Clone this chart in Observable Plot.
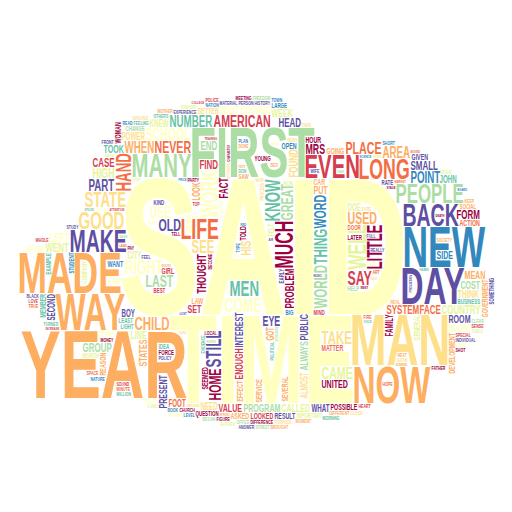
<!DOCTYPE html>
<html><head><meta charset="utf-8">
<script src="https://cdn.jsdelivr.net/npm/d3@7"></script>
<script src="https://cdn.jsdelivr.net/npm/@observablehq/plot@0.6"></script>
<style>html,body{margin:0;padding:0;background:#fff;overflow:hidden}</style>
</head><body><div id="chart"></div>
<script>
// Word frequencies (relative weight) and colour group (index into Spectral scheme)
const words = [
"SAID","TIME","YEAR","MAN","FIRST","MADE","NEW","DAY","WAY","NOW",
"EVEN","MANY","MAKE","BACK","LIFE","LONG","PEOPLE","MUCH","WELL","WORK",
"GOOD","STATE","LITTLE","KNOW","STILL","MEN","HAND","COME","SAY","RIGHT",
"SEE","TAKE","THING","CHILD","WORLD","OLD","NEVER","USED","LAST","AMERICAN",
"PLACE","SCHOOL","GREAT","WORD","USE","CAME","HOME","PART","POINT","WHEN",
"AREA","NUMBER","HIGH","HIS","EYE","MRS","SYSTEM","PROBLEM","THOUGHT","FOUND",
"FACT","FACE","FIND","HEAD","END","WENT","LEFT","COUNTRY","SMALL","CASE",
"GROUP","FORM","SET","UNITED","PROGRAM","COST","PUT","INTEREST","PUBLIC","ALWAYS",
"LINE","THINK","MEAN","WEEK","TOOK","CALLED","VALUE","ENOUGH","STATES","COURSE",
"PRESENT","SIDE","ROOM","POWER","JOHN","NEED","LOOK","GOT","NIGHT","HOUSE",
"WHAT","DOE","KNEW","CITY","FAR","BOY","FOOT","ALMOST","FAMILY","SECOND",
"MATTER","WANT","ACTION","GIRL","OPEN","GENERAL","SEEMED","BETTER","GOING","LOOKED",
"SEVERAL","SERVICE","GOVERNMENT","REASON","DEVELOPMENT","EFFECT","MEMBER","FELT","HOUR","WATER",
"RESULT","ASKED","POSSIBLE","GIVEN","WOMAN","LAW","CAR","ORDER","TOLD","GONE",
"SOCIAL","YOUNG","FORCE","LATER","BUSINESS","MONTH","DOOR","MIND","HELP","CHANGE",
"BEST","KIND","RATE","QUESTION","LARGE","LEAST","COMPANY","STUDENT","IDEA","SOMETHING",
"EARLY","LIGHT","RUN","BIG","EXAMPLE","IMPORTANT","SAW","TELL","REALLY","LOCAL",
"FULL","PARTY","EXPERIENCE","SOCIETY","POLICY","MONEY","CHURCH","SPECIAL","HISTORY","BECOME",
"PERSON","FEELING","STUDY","SHORT","POSITION","WHOLE","FIELD","MATERIAL","FREE","SOUND",
"PROCESS","TYPE","POLITICAL","SURE","REAL","DONE","LET","DIFFERENCE","OTHERS","TURNED",
"PLAN","WAR","FEEL","SHOW","BODY","NATION","FIGURE","FRONT","DIFFERENT","NEXT",
"TOP","THEN","THOUGH","PURPOSE","INDIVIDUAL","DON","MINUTE","OFFICE","KEEP","ROAD",
"HOPE","CLEAR","HEART","BOOK","MOMENT","TOWARD","ART","PAY","BEGAN","LEVEL",
"MORNING","WHITE","BLACK","FATHER","MOTHER","SENSE","TOWN","FREEDOM","SPACE","RATHER",
"GROUND","LOVE","WIFE","BED","MILLION","MEETING","LAND","NATURE","FIRE","PERIOD",
"STREET","SHOT","ANSWER","BROUGHT","CLOSE","EVIDENCE","POLICE","READ","TABLE","TRUE",
"MUSIC","SOUTH","NORTH","WEST","EAST","PRICE","ATTENTION","CENTURY","HEARD","MARKET",
"COURT","LOST","STAGE","TEST","BASIS","OPERATION","SCIENCE","TRAINING","SHALL","STOOD",
"DEATH","SUMMER","AIR","RANGE","MOVED","BOARD","NATIONAL","STRENGTH","INCREASE","MILE",
"VOICE","CHARACTER","PRODUCTION","SPRING","PAPER","LEAD","RED","DATA","HAIR","COLLEGE"
];
const counts = [
137,88,68,50,49,40,40,36,36,36,
23,23,22,22,20,20,19,18,18,17,
17,15,15,15,15,15,15,14,14,14,
13,13,13,13,13,12,12,12,12,12,
12,12,12,12,12,12,12,11,11,11,
11,11,10,10,10,10,9,9,9,9,
9,9,9,9,9,9,9,9,9,9,
9,9,8,8,8,8,8,8,8,8,
8,8,8,8,8,8,8,8,8,8,
8,8,8,7,7,7,7,7,7,7,
7,7,7,7,7,7,7,7,7,7,
6,6,6,6,6,6,6,6,6,6,
6,6,6,6,6,6,6,6,6,6,
6,6,6,6,6,6,6,6,6,6,
5,5,5,5,5,5,5,5,5,5,
5,5,5,5,5,5,5,5,5,5,
5,5,5,5,5,5,5,4,4,4,
4,4,4,4,4,4,4,4,4,4,
4,4,4,4,4,4,4,4,4,4,
4,4,4,4,4,4,4,4,4,4,
4,4,4,4,4,4,4,4,4,4,
4,4,4,4,4,4,4,4,4,4,
4,4,4,4,4,4,4,4,4,4,
4,4,4,4,4,4,4,4,4,4,
4,4,4,4,4,4,4,4,4,4,
4,4,4,4,4,4,4,4,4,4,
3,3,3,3,3,3,3,3,3,3,
3,3,3,3,3,3,3,3,3,3,
3,3,3,3,3,3,3,3,3,3,
3,3,3,3,3,3,3,3,3,3
];
const tones = [
5,5,3,4,7,3,9,10,3,3,
1,7,10,10,2,2,7,0,6,5,
4,4,0,8,10,8,2,5,1,5,
4,4,8,3,7,10,2,3,7,1,
2,5,7,9,5,6,0,10,9,3,
3,8,6,4,10,0,2,0,0,4,
0,2,1,10,7,6,5,6,10,1,
7,0,1,0,7,7,3,10,10,7,
6,4,3,6,8,6,1,1,3,5,
10,9,10,4,8,4,3,3,5,5,
10,6,6,6,5,10,2,4,0,10,
2,9,2,1,9,6,0,4,3,1,
3,3,3,3,3,3,8,6,0,5,
10,3,0,10,0,3,3,5,0,5,
3,0,0,0,8,6,2,1,7,7,
1,10,10,0,9,8,6,9,8,10,
10,8,6,9,8,6,3,0,10,0,
10,0,10,3,10,0,0,1,10,0,
10,8,10,9,5,1,5,10,5,1,
4,9,8,4,3,3,5,0,8,8,
9,4,10,4,4,9,0,10,3,3,
1,4,5,4,10,8,2,7,3,6,
2,7,1,9,3,6,2,0,7,9,
8,5,10,0,3,1,9,7,2,6,
4,1,10,3,8,0,6,9,2,5,
7,0,10,3,4,8,1,9,6,2,
10,3,7,0,4,9,1,5,8,2,
6,10,0,3,7,4,9,1,5,8,
0,3,10,6,2,9,4,7,1,5,
8,0,10,3,6,2,9,4,7,1
];
// words set upright (reading bottom to top)
const uprightWords = [
"MUCH","WELL","WORK","LITTLE","KNOW","STILL","HAND","THING","WORLD","GREAT","WORD","HOME","HIS",
"PROBLEM","THOUGHT","FOUND","FACT","INTEREST","PUBLIC","ALWAYS","ENOUGH","STATES","PRESENT","LOOK",
"GOT","ALMOST","FAMILY","SECOND","GENERAL","SEEMED","SEVERAL","SERVICE","GOVERNMENT","REASON",
"DEVELOPMENT","EFFECT","MEMBER","FELT","WOMAN","ORDER","TOLD","COMPANY","STUDENT","SOMETHING",
"EARLY","EXAMPLE","BECOME","POSITION","PROCESS","POLITICAL","TYPE",
"EVIDENCE","PRODUCTION","OPERATION","CHARACTER","STRENGTH"
];
const palette = d3.schemeSpectral[11];

// ---------- layout (computed: nearest-to-centre packing inside a cloud mask) ----------
const W = 512, H = 512, SX = 0.62;
const FONT = '"Liberation Sans", Arial, sans-serif';
const upright = new Set(uprightWords);

function buildMask() {
  const c = document.createElement("canvas"); c.width = W; c.height = H;
  const g = c.getContext("2d");
  g.fillStyle = "#000";
  const lobes = [[212,205,130],[372,255,118],[95,325,92],[70,292,66],[110,245,50],[430,318,76],[50,392,44],[460,392,44]];
  for (const [x,y,r] of lobes) { g.beginPath(); g.arc(x,y,r,0,2*Math.PI); g.fill(); }
  g.fillRect(55,250,410,186);
  g.fillRect(100,200,320,236);
  const d = g.getImageData(0,0,W,H).data;
  const grid = new Uint8Array(W*H);
  for (let i = 0; i < W*H; i++) grid[i] = d[4*i+3] > 127 ? 0 : 1;
  return grid;
}

const cvs = document.createElement("canvas"); cvs.width = 700; cvs.height = 700;
const ctx = cvs.getContext("2d", {willReadFrequently: true});
ctx.font = `bold 100px ${FONT}`;
const capRatio = ctx.measureText("H").actualBoundingBoxAscent / 100 || 0.716;

function glyph(word, fs, vertical) {
  ctx.setTransform(1,0,0,1,0,0);
  ctx.clearRect(0,0,700,700);
  ctx.font = `bold ${fs}px ${FONT}`;
  const m = ctx.measureText(word);
  const adv = m.width * SX;
  const asc = Math.ceil(m.actualBoundingBoxAscent) + 2, desc = Math.ceil(m.actualBoundingBoxDescent) + 2;
  const p = 3;
  let cw, ch, ax, ay;
  if (!vertical) {
    cw = Math.ceil(adv) + 2*p; ch = asc + desc + 2*p; ax = p; ay = p + asc;
    ctx.setTransform(SX,0,0,1,ax,ay);
  } else {
    cw = asc + desc + 2*p; ch = Math.ceil(adv) + 2*p; ax = p + asc; ay = p + Math.ceil(adv);
    ctx.setTransform(0,-SX,1,0,ax,ay);
  }
  ctx.fillStyle = "#000";
  ctx.fillText(word, 0, 0);
  const img = ctx.getImageData(0,0,cw,ch).data;
  let x0 = cw, y0 = ch, x1 = -1, y1 = -1;
  const bits = new Uint8Array(cw*ch);
  for (let y = 0; y < ch; y++) for (let x = 0; x < cw; x++) {
    if (img[4*(y*cw+x)+3] > 40) {
      bits[y*cw+x] = 1;
      if (x < x0) x0 = x; if (x > x1) x1 = x; if (y < y0) y0 = y; if (y > y1) y1 = y;
    }
  }
  return {cw, ch, ax, ay, bits, x0, y0, x1, y1, adv};
}

function layout() {
  const grid = buildMask();
  const W1 = W + 1;
  const S = new Int32Array(W1*(H+1));
  function sat() {
    for (let y = 0; y < H; y++) {
      let row = 0;
      for (let x = 0; x < W; x++) {
        row += grid[y*W+x];
        S[(y+1)*W1 + x + 1] = S[y*W1 + x + 1] + row;
      }
    }
  }
  const cx = 262, cy = 246, ex = 1.35, mg = 1;
  const order = d3.range(words.length).sort((a,b) => counts[b] - counts[a] || a - b);
  const out = [];
  for (const i of order) {
    const vertical = upright.has(words[i]);
    let cap = counts[i];
    const up = cap >= 30 ? 1.7 : 1.2;
    let placed = false;
    while (!placed && cap >= 3) {
      const fs = cap / capRatio;
      const gl = glyph(words[i], fs, vertical);
      if (gl.x1 < 0) break;
      const bw = gl.x1 - gl.x0 + 1 + 2*mg, bh = gl.y1 - gl.y0 + 1 + 2*mg;
      sat();
      let best = -1, bx = 0, by = 0, bc = Infinity;
      for (let y = 0; y <= H - bh; y++) {
        const r0 = y*W1, r1 = (y+bh)*W1;
        let dy = y + bh/2 - cy; if (dy < 0) dy *= up;
        const dy2 = dy*dy;
        if (dy2 >= bc) continue;
        for (let x = 0; x <= W - bw; x++) {
          if (S[r1+x+bw] - S[r0+x+bw] - S[r1+x] + S[r0+x] === 0) {
            const dx = (x + bw/2 - cx) / ex;
            const c = dx*dx + dy2;
            if (c < bc) { bc = c; bx = x; by = y; best = 1; }
          }
        }
      }
      if (best < 0) { cap -= 1; continue; }
      const ox = bx + mg - gl.x0, oy = by + mg - gl.y0;
      for (let y = gl.y0; y <= gl.y1; y++) for (let x = gl.x0; x <= gl.x1; x++) {
        if (gl.bits[y*gl.cw+x]) grid[(oy+y)*W + ox + x] = 1;
      }
      out.push({word: words[i], tone: tones[i], fs, rot: vertical ? -90 : 0,
                x: ox + gl.ax, y: oy + gl.ay});
      placed = true;
    }
  }
  return out;
}

const placedWords = layout();

const chart = Plot.plot({
  width: W, height: H, margin: 0,
  style: {background: "#fff"},
  x: {domain: [0, W], range: [0, W], axis: null},
  y: {domain: [0, H], range: [0, H], axis: null},
  color: {type: "ordinal", domain: d3.range(11), range: palette},
  marks: [
    Plot.text(placedWords, {
      x: "x", y: "y", text: "word",
      fontSize: d => d.fs, rotate: d => d.rot, fill: d => d.tone,
      textAnchor: "start", lineAnchor: "bottom",
      fontFamily: FONT, fontWeight: "bold"
    })
  ]
});
// condense the glyphs horizontally (along the reading direction), like the canvas layout
d3.select(chart).selectAll("g[aria-label='text'] text").each(function() {
  const t = this.getAttribute("transform") || "";
  this.setAttribute("transform", `${t} scale(${SX},1)`);
});
document.getElementById("chart").appendChild(chart);
</script>
</body></html>
